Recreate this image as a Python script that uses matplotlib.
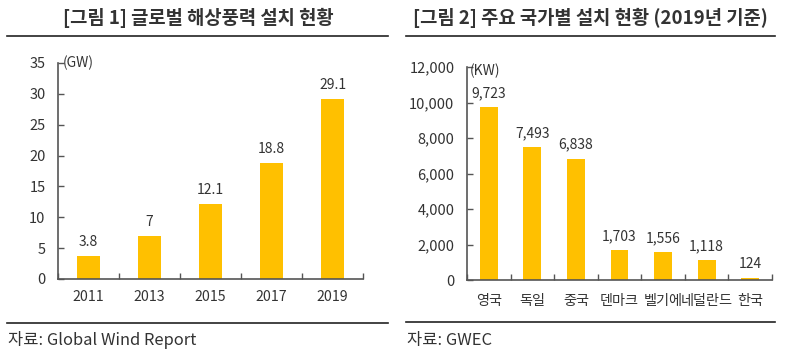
import matplotlib
matplotlib.use("Agg")
import matplotlib.pyplot as plt
from matplotlib.lines import Line2D

plt.rcParams['font.family'] = ['Noto Sans CJK KR', 'DejaVu Sans']

# data
years = ['2011', '2013', '2015', '2017', '2019']
global_gw = [3.8, 7, 12.1, 18.8, 29.1]
global_labels = ['3.8', '7', '12.1', '18.8', '29.1']

countries = ['영국', '독일', '중국', '덴마크', '벨기에', '네덜란드', '한국']
country_kw = [9723, 7493, 6838, 1703, 1556, 1118, 124]

BAR = '#FFC000'
TXT = '#333333'
AX = '#555555'

fig = plt.figure(figsize=(7.95, 3.56), dpi=100)
W, H = 795, 356


def px(x, y):
    return x / W, 1 - y / H


def style_axis(ax, n):
    for s in ['top', 'right']:
        ax.spines[s].set_visible(False)
    for s in ['left', 'bottom']:
        ax.spines[s].set_color(AX)
        ax.spines[s].set_linewidth(1.2)
    ax.set_xlim(-0.5, n - 0.5)
    ax.set_xticks(range(n))
    ax.set_xticks([i - 0.5 for i in range(n + 1)], minor=True)
    ax.tick_params(axis='x', which='major', length=0, pad=8, labelsize=10.2, colors=TXT)
    ax.tick_params(axis='x', which='minor', direction='in', length=4, width=1, color=AX)
    ax.tick_params(axis='y', direction='in', length=4, width=1, color=AX, pad=9,
                   labelsize=10.5, labelcolor=TXT)


# left panel
ax1 = fig.add_axes([58 / W, 1 - 279 / H, 305 / W, 216 / H])
style_axis(ax1, len(years))
ax1.bar(range(len(years)), global_gw, width=0.39, color=BAR)
ax1.set_ylim(0, 35)
ax1.set_yticks(range(0, 36, 5))
ax1.set_xticklabels(years)
for i, (v, t) in enumerate(zip(global_gw, global_labels)):
    ax1.annotate(t, (i, v), xytext=(0, 5), textcoords='offset points',
                 ha='center', va='bottom', fontsize=10, color=TXT)
ax1.text(0.015, 1.0, '(GW)', transform=ax1.transAxes, ha='left', va='center',
         fontsize=10, color=TXT)

# right panel
ax2 = fig.add_axes([467 / W, 1 - 280 / H, 305 / W, 213 / H])
style_axis(ax2, len(countries))
ax2.bar(range(len(countries)), country_kw, width=0.41, color=BAR)
ax2.set_ylim(0, 12000)
ax2.set_yticks(range(0, 12001, 2000))
ax2.set_yticklabels([f'{v:,}' for v in range(0, 12001, 2000)])
ax2.set_xticklabels(countries, fontsize=10.2)
ax2.tick_params(axis='x', which='major', pad=10)
for i, v in enumerate(country_kw):
    ax2.annotate(f'{v:,}', (i, v), xytext=(0, 5), textcoords='offset points',
                 ha='center', va='bottom', fontsize=10, color=TXT)
ax2.text(0.01, 0.98, '(KW)', transform=ax2.transAxes, ha='left', va='center',
         fontsize=10, color=TXT)

# titles, rules and sources
fig.text(*px(198, 18), '[그림 1] 글로벌 해상풍력 설치 현황', ha='center', va='center',
         fontsize=13.5, fontweight='bold', color=TXT)
fig.text(*px(413, 18), '[그림 2] 주요 국가별 설치 현황 (2019년 기준)', ha='left', va='center',
         fontsize=13.5, fontweight='bold', color=TXT)
for (x0, x1, y) in [(7, 388, 36), (406, 775, 36), (7, 388, 323), (406, 775, 322)]:
    fig.add_artist(Line2D([x0 / W, x1 / W], [1 - y / H, 1 - y / H], color='#222222', lw=1.2))
fig.text(*px(8, 340), '자료: Global Wind Report', ha='left', va='center', fontsize=11.9, color=TXT)
fig.text(*px(407, 340), '자료: GWEC', ha='left', va='center', fontsize=11.9, color=TXT)

fig.savefig('out.png', dpi=100, facecolor='white')
